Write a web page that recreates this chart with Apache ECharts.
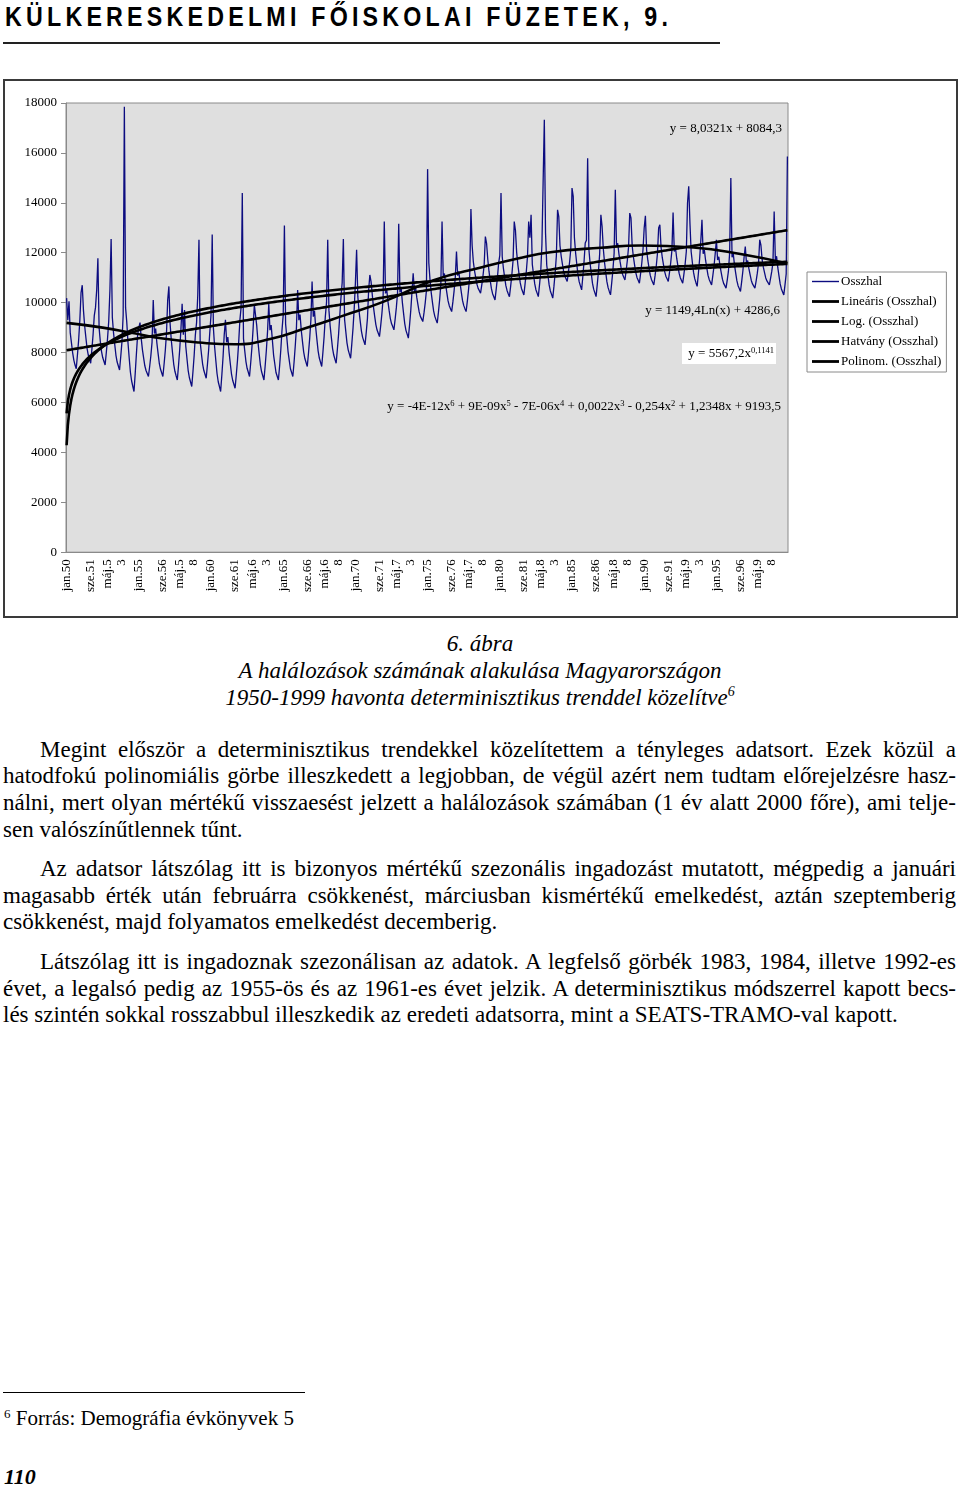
<!DOCTYPE html>
<html><head><meta charset="utf-8">
<script src="https://cdn.jsdelivr.net/npm/echarts@6/dist/echarts.min.js"></script>
<style>
html,body{margin:0;padding:0;background:#fff;}
body{width:960px;height:1488px;position:relative;overflow:hidden;font-family:"Liberation Serif","Times New Roman",serif;color:#000;}
#hdr{position:absolute;left:5px;top:1px;font-weight:bold;font-size:27px;font-family:"Liberation Sans",Arial,sans-serif;white-space:nowrap;line-height:32px;transform-origin:0 0;transform:scaleX(0.86);}
#rule{position:absolute;left:3px;top:42px;width:717px;height:2px;background:#222;}
#frame{position:absolute;left:3px;top:79px;width:951px;height:535px;border:2px solid #3a3a3a;}
#chart{position:absolute;left:0;top:0;width:960px;height:630px;}
.cap{position:absolute;left:0;width:960px;text-align:center;font-style:italic;font-size:23px;line-height:27px;}
.ln{position:absolute;left:3px;width:953px;font-size:23px;line-height:27px;box-sizing:border-box;}
.j{text-align:justify;text-align-last:justify;}
.l{text-align:left;}
.ind{padding-left:37px;}
#fnrule{position:absolute;left:3px;top:1392px;width:302px;height:1px;background:#000;}
#fn{position:absolute;left:4px;top:1406px;font-size:21px;line-height:24px;white-space:nowrap;}
#fn sup{font-size:13px;vertical-align:7px;line-height:0;}
#pg{position:absolute;left:4px;top:1465px;font-size:22px;line-height:24px;font-weight:bold;font-style:italic;}
</style></head>
<body>
<div id="hdr">KÜLKERESKEDELMI FŐISKOLAI FÜZETEK, 9.</div>
<div id="rule"></div>
<div id="frame"></div>
<div id="chart"></div>
<div class="cap" style="top:630px">6. ábra</div>
<div class="cap" style="top:657px">A halálozások számának alakulása Magyarországon</div>
<div class="cap" style="top:684px">1950-1999 havonta determinisztikus trenddel közelítve<sup style="font-size:14px;vertical-align:9px;line-height:0">6</sup></div>

<div class="ln j ind" style="top:736px">Megint először a determinisztikus trendekkel közelítettem a tényleges adatsort. Ezek közül a</div>
<div class="ln j" style="top:762px">hatodfokú polinomiális görbe illeszkedett a legjobban, de végül azért nem tudtam előrejelzésre hasz-</div>
<div class="ln j" style="top:789px">nálni, mert olyan mértékű visszaesést jelzett a halálozások számában (1 év alatt 2000 főre), ami telje-</div>
<div class="ln l" style="top:816px">sen valószínűtlennek tűnt.</div>

<div class="ln j ind" style="top:855px">Az adatsor látszólag itt is bizonyos mértékű szezonális ingadozást mutatott, mégpedig a januári</div>
<div class="ln j" style="top:882px">magasabb érték után februárra csökkenést, márciusban kismértékű emelkedést, aztán szeptemberig</div>
<div class="ln l" style="top:908px">csökkenést, majd folyamatos emelkedést decemberig.</div>

<div class="ln j ind" style="top:948px">Látszólag itt is ingadoznak szezonálisan az adatok. A legfelső görbék 1983, 1984, illetve 1992-es</div>
<div class="ln j" style="top:975px">évet, a legalsó pedig az 1955-ös és az 1961-es évet jelzik. A determinisztikus módszerrel kapott becs-</div>
<div class="ln l" style="top:1001px">lés szintén sokkal rosszabbul illeszkedik az eredeti adatsorra, mint a SEATS-TRAMO-val kapott.</div>

<div id="fnrule"></div>
<div id="fn"><sup>6</sup> Forrás: Demográfia évkönyvek 5</div>
<div id="pg">110</div>

<script>
// ---- data ----
const monthNames = ['jan','feb','már','ápr','máj','jún','júl','aug','sze','okt','nov','dec'];
const firstYear = 1950, lastYear = 1999;
const yTicks = [0, 2000, 4000, 6000, 8000, 10000, 12000, 14000, 16000, 18000];

const osszhal1950s = [
10180, 9300,10050, 8800, 8400, 8000, 7700, 7500, 7350, 7900, 8500, 9300,
10400,10700, 9700, 9070, 8610, 8170, 7900, 7730, 7570, 8120, 8720, 9480,
 9800,10500,11780, 9000, 8450, 8050, 7800, 7650, 7500, 8000, 8550, 9250,
10500,12550, 9410, 8790, 8330, 7890, 7620, 7460, 7300, 7840, 8430, 9500,
17850, 9800, 9220, 8400, 7790, 7220, 6870, 6650, 6440, 7150, 7940, 8700,
 9000, 9200, 8570, 8120, 7790, 7470, 7280, 7160, 7040, 7430, 7860, 8410,
10110, 8760, 8960, 8390, 7980, 7580, 7340, 7190, 7040, 7530, 8070, 8760,
10100,10650, 9160, 8500, 8000, 7540, 7250, 7070, 6900, 7480, 8120, 8930,
 9950, 8710, 9700, 8270, 7770, 7290, 7000, 6820, 6640, 7230, 7880, 8710,
 9200,10300,12520, 8420, 7970, 7550, 7290, 7130, 6970, 7500, 8080, 8810];
const osszhal1960s = [
 9500,12730, 8980, 8230, 7680, 7160, 6830, 6640, 6440, 7090, 7810, 8720,
 9310, 8410, 8620, 8020, 7570, 7150, 6890, 6730, 6570, 7100, 7680, 8410,
 9300, 9800,14390, 8560, 8090, 7650, 7370, 7210, 7040, 7590, 8200, 8970,
 9910, 9500, 9080, 8440, 7960, 7520, 7240, 7070, 6900, 7460, 8080, 8860,
 9950, 8900, 9100, 8500, 7900, 7550, 7200, 7050, 6900, 7450, 8100, 8900,
 9500,13090, 9150, 8600, 8050, 7700, 7350, 7200, 7040, 7600, 8250, 9000,
10510, 9300, 9520, 8900, 8450, 8030, 7760, 7600, 7440, 7970, 8560, 9300,
10850, 9440, 9670, 9010, 8530, 8070, 7780, 7610, 7440, 8010, 8640, 9440,
10000,12520, 9700, 9070, 8610, 8170, 7900, 7730, 7570, 8120, 8720, 9480,
10200,10800,12550, 9330, 8850, 8390, 8110, 7940, 7770, 8340, 8960, 9750];
const osszhal1970s = [
10800,12120,10250, 9680, 9260, 8860, 8610, 8460, 8310, 8810, 9360,10500,
11110,10840,10330, 9830, 9460, 9120, 8900, 8770, 8640, 9070, 9550,10150,
13250,10370,10540,10060, 9700, 9370, 9160, 9040, 8910, 9330, 9790,10370,
13160,10410,10620,10020, 9580, 9160, 8890, 8740, 8580, 9100, 9680,10410,
11180,10470,10610,10210, 9910, 9630, 9450, 9350, 9240, 9590, 9980,10470,
15350,11600,10910,10400,10020, 9670, 9450, 9310, 9180, 9620,10110,10730,
13250,11010,11170,10720,10390,10070, 9880, 9760, 9640,10030,10460,11010,
12050,11080,11250,10770,10420,10090, 9890, 9760, 9640,10050,10510,11080,
13750,12300,11640,11270,11000,10740,10570,10480,10380,10700,11060,11510,
12650,12380,11740,11260,10900,10570,10360,10240,10110,10530,10990,11570];
const osszhal1980s = [
11900,14390,11850,11370,11020,10690,10490,10360,10240,10650,11110,11680,
13250,12900,12020,11520,11140,10790,10570,10440,10310,10750,11230,11840,
13250,12600,13520,11540,11140,10760,10520,10380,10240,10710,11230,12320,
12400,17330,12800,11510,11100,10710,10470,10330,10180,10660,11200,11870,
13720,13450,12290,11870,11550,11260,11070,10960,10850,11220,11630,12150,
14590,14260,12610,11990,11530,11100,10830,10670,10510,11050,11640,12390,
12500,15790,12160,11590,11180,10780,10540,10390,10240,10730,11270,11960,
13520,13050,12170,11630,11220,10840,10600,10450,10310,10790,11310,11980,
14520,12230,12380,11950,11630,11330,11140,11020,10910,11290,11700,12230,
13590,13400,12280,11840,11510,11200,11010,10900,10780,11160,11590,12120];
const osszhal1990s = [
13000,13480,12110,11700,11390,11100,10930,10820,10710,11070,11460,11960,
12990,13120,12220,11810,11520,11240,11060,10960,10850,11200,11590,12080,
13610,12050,12200,11780,11470,11180,11000,10890,10780,11140,11540,12050,
13990,14660,13200,12050,11620,11210,10960,10800,10650,11160,11720,12440,
13320,11960,12110,11700,11390,11100,10930,10820,10710,11070,11460,11960,
12520,11710,11840,11470,11200,10940,10770,10680,10580,10900,11260,12000,
14990,11820,11970,11520,11190,10880,10680,10570,10450,10840,11270,11820,
12250,11570,11690,11360,11120,10890,10750,10670,10580,10860,11180,11570,
12520,12300,11720,11420,11200,10990,10870,10790,10710,10970,11250,11610,
13650,11700,11860,11410,11070,10750,10550,10430,10310,10710,11150,15860];

// trendline equations shown on the chart (x = 1..600)
const linCoef = [8.0321, 8084.3];
const logCoef = [1149.4, 4286.6];
const powCoef = [5567.2, 0.1141];
// 6th-degree polynomial trend (month index, value)
const polyMonth = [0, 30, 55, 80, 110, 140, 170, 199, 230, 263, 305, 346, 375, 402, 444, 477, 521, 560, 599];
const polyValue = [9190, 9000, 8780, 8560, 8400, 8330, 8550, 8980, 9480, 10030, 10895, 11430, 11770, 12020, 12200, 12290, 12210, 11950, 11570];

const seriesNames = ['Osszhal','Lineáris (Osszhal)','Log. (Osszhal)','Hatvány (Osszhal)','Polinom. (Osszhal)'];

// ---- header fit ----
(function(){
  const h = document.getElementById('hdr');
  const n = h.textContent.length;
  const w = h.getBoundingClientRect().width / 0.86;
  h.style.letterSpacing = ((663 / 0.86 - w) / (n - 1)).toFixed(2) + 'px';
})();

// ---- build ----
const categories = [];
for (let y = firstYear; y <= lastYear; y++) {
  for (let m = 0; m < 12; m++) categories.push(monthNames[m] + '.' + String(y).slice(2));
}
const osszhal = [].concat(osszhal1950s, osszhal1960s, osszhal1970s, osszhal1980s, osszhal1990s);
const lin = [], lg = [], pw = [];
for (let i = 1; i <= osszhal.length; i++) {
  lin.push(linCoef[0] * i + linCoef[1]);
  lg.push(logCoef[0] * Math.log(i) + logCoef[1]);
  pw.push(powCoef[0] * Math.pow(i, powCoef[1]));
}
const poly = polyMonth.map((m, i) => [m, polyValue[i]]);

const FONT = '"Liberation Serif","Times New Roman",serif';
const trendStyle = { color: '#000', width: 2.6 };
const thinIcon = 'path://M0,0H27V1.4H0Z';
const thickIcon = 'path://M0,0H27V2.8H0Z';

const chart = echarts.init(document.getElementById('chart'), null, { renderer: 'canvas' });
chart.setOption({
  animation: false,
  backgroundColor: 'transparent',
  grid: { left: 66, right: 172, top: 103, bottom: 77.8, show: true, backgroundColor: '#dfdfdf', borderColor: '#8a8a8a', borderWidth: 1 },
  legend: {
    data: seriesNames.map((n, i) => ({ name: n, icon: i === 0 ? thinIcon : thickIcon })),
    orient: 'vertical', left: 807, top: 272, symbolKeepAspect: true,
    backgroundColor: '#fff', borderColor: '#8a8a8a', borderWidth: 1,
    padding: [3, 5, 4, 5], itemGap: 7, itemWidth: 27, itemHeight: 13,
    textStyle: { fontFamily: FONT, fontSize: 13, color: '#000', padding: [0, 0, 0, -3] },
    selectedMode: false
  },
  xAxis: [{
    type: 'category', data: categories, boundaryGap: true,
    axisLine: { lineStyle: { color: '#8a8a8a' } },
    axisTick: { interval: 0, length: 4, lineStyle: { color: '#8a8a8a' } },
    axisLabel: {
      interval: 19, rotate: 90, margin: 7, color: '#000', fontFamily: FONT, fontSize: 13, lineHeight: 14,
      formatter: v => v.startsWith('máj') ? v.slice(0, 5) + '\n' + v.slice(5) : v
    },
    splitLine: { show: false }
  }, {
    type: 'category', data: categories, boundaryGap: true, position: 'bottom',
    axisLine: { show: false },
    axisTick: { inside: true, interval: 0, length: 4, lineStyle: { color: '#8a8a8a' } },
    axisLabel: { show: false }, splitLine: { show: false }
  }],
  yAxis: {
    type: 'value', min: yTicks[0], max: yTicks[yTicks.length - 1], interval: 2000,
    axisLine: { show: true, lineStyle: { color: '#8a8a8a' } },
    axisTick: { show: true, length: 5, lineStyle: { color: '#8a8a8a' } },
    axisLabel: { color: '#000', fontFamily: FONT, fontSize: 13, margin: 9, formatter: v => String(v) },
    splitLine: { show: false }
  },
  series: [
    { name: seriesNames[0], type: 'line', data: osszhal, symbol: 'none', lineStyle: { color: '#0c0c80', width: 1.3 }, itemStyle: { color: '#0c0c80' }, z: 2 },
    { name: seriesNames[1], type: 'line', data: lin, symbol: 'none', lineStyle: trendStyle, itemStyle: { color: '#000' }, z: 3 },
    { name: seriesNames[2], type: 'line', data: lg, symbol: 'none', lineStyle: trendStyle, itemStyle: { color: '#000' }, z: 3 },
    { name: seriesNames[3], type: 'line', data: pw, symbol: 'none', lineStyle: trendStyle, itemStyle: { color: '#000' }, z: 3 },
    { name: seriesNames[4], type: 'line', data: poly, symbol: 'none', smooth: 0.5, lineStyle: trendStyle, itemStyle: { color: '#000' }, z: 3 }
  ],
  graphic: [
    { type: 'text', x: 782, y: 129, z: 10, style: { text: 'y = 8,0321x + 8084,3', align: 'right', verticalAlign: 'middle', font: '13px ' + FONT, fill: '#000' } },
    { type: 'text', x: 780, y: 311, z: 10, style: { text: 'y = 1149,4Ln(x) + 4286,6', align: 'right', verticalAlign: 'middle', font: '13px ' + FONT, fill: '#000' } },
    { type: 'rect', z: 10, shape: { x: 682, y: 343, width: 94, height: 21 }, style: { fill: '#fff' } },
    { type: 'text', x: 774, y: 354, z: 11, style: {
        text: '{n|y = 5567,2x}{s|0,1141}', align: 'right', verticalAlign: 'middle',
        rich: { n: { fontFamily: FONT, fontSize: 13, lineHeight: 16 }, s: { fontFamily: FONT, fontSize: 8.5, lineHeight: 16, verticalAlign: 'top' } } } },
    { type: 'text', x: 781, y: 407, z: 10, style: {
        text: '{n|y = -4E-12x}{s|6}{n| + 9E-09x}{s|5}{n| - 7E-06x}{s|4}{n| + 0,0022x}{s|3}{n| - 0,254x}{s|2}{n| + 1,2348x + 9193,5}',
        align: 'right', verticalAlign: 'middle',
        rich: { n: { fontFamily: FONT, fontSize: 13, lineHeight: 16 }, s: { fontFamily: FONT, fontSize: 8.5, lineHeight: 16, verticalAlign: 'top' } } } }
  ]
});
</script>
</body></html>
